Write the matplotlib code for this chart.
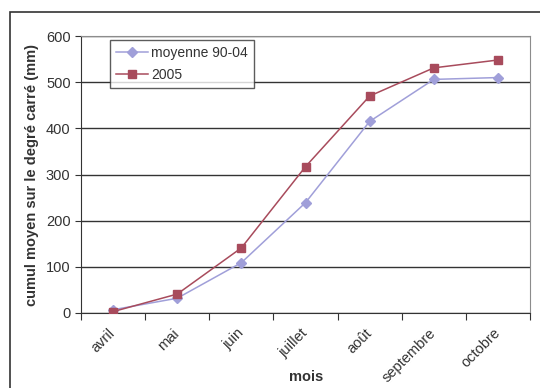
import matplotlib
matplotlib.use("Agg")
import matplotlib.pyplot as plt
from matplotlib.patches import Rectangle
from matplotlib.transforms import ScaledTranslation

plt.rcParams['font.family'] = ['Liberation Sans', 'DejaVu Sans']

mois = ['avril', 'mai', 'juin', 'juillet', 'août', 'septembre', 'octobre']
moyenne = [7, 32, 109, 239, 415, 506, 510]
annee_2005 = [3, 41, 141, 317, 470, 531, 548]

fig = plt.figure(figsize=(5.4, 3.88), dpi=100)
ax = fig.add_axes([0.15, 0.1933, 0.8315, 0.7139])

# cadre autour du graphique
fig.patches.append(Rectangle((10 / 540, -0.05), 1.0, 1 - 12 / 388 + 0.05,
                             transform=fig.transFigure, fill=False,
                             edgecolor='#333333', linewidth=1.2, clip_on=False))

x = [i + 0.5 for i in range(len(mois))]
ax.plot(x, moyenne, color='#A09FD9', marker='D', markersize=5, linewidth=1.1,
        label='moyenne 90-04', zorder=3)
ax.plot(x, annee_2005, color='#A84B5C', marker='s', markersize=5.5, linewidth=1.1,
        label='2005', zorder=4)

ax.set_xlim(0, len(mois))
ax.set_ylim(0, 600)
ax.set_yticks(range(0, 601, 100))
ax.set_xticks(range(len(mois) + 1))
ax.set_xticklabels([])
ax.set_xticks(x, minor=True)
ax.set_xticklabels(mois, minor=True, rotation=45, ha='right', va='center',
                   rotation_mode='anchor', fontsize=10.5, color='#333333')
shift = ScaledTranslation(-5 / 100, 0, fig.dpi_scale_trans)
for lab in ax.get_xticklabels(minor=True):
    lab.set_transform(lab.get_transform() + shift)
ax.tick_params(axis='x', which='minor', length=0, pad=13)
ax.tick_params(axis='x', which='major', length=5, color='#333333')
ax.tick_params(axis='y', length=4, labelsize=10.5, labelcolor='#333333', color='#333333')

ax.grid(axis='y', color='#333333', linewidth=1.0)
ax.set_axisbelow(True)
for s in ['top', 'right']:
    ax.spines[s].set_color('#8C8C8C')
for s in ['left', 'bottom']:
    ax.spines[s].set_color('#333333')

ax.set_ylabel('cumul moyen sur le degré carré (mm)', fontsize=10.5, fontweight='bold',
              color='#333333', labelpad=5)
fig.text(306 / 540, 1 - 377 / 388, 'mois', fontsize=10.5, fontweight='bold',
         color='#333333', ha='center', va='center')

leg = ax.legend(loc='upper left', bbox_to_anchor=(0.065, 0.986), fontsize=10,
                frameon=True, fancybox=False, handlelength=2.3, borderpad=0.45,
                labelspacing=0.55, handletextpad=0.2, borderaxespad=0)
leg.get_frame().set_edgecolor('#333333')
leg.get_frame().set_linewidth(1.0)
for t in leg.get_texts():
    t.set_color('#333333')

fig.savefig('out.png', dpi=100)
